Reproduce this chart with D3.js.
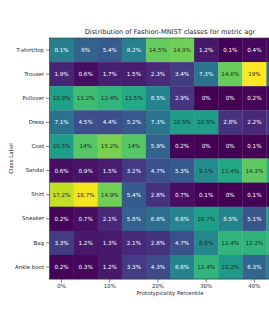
<!DOCTYPE html>
<html>
<head>
<meta charset="utf-8">
<script src="https://cdn.jsdelivr.net/npm/d3@7"></script>
<style>
  body { margin: 0; background: #fff; }
  svg { display: block; font-family: "DejaVu Sans", sans-serif; }
</style>
</head>
<body>
<svg id="chart" width="269" height="314"></svg>
<script>
// Class labels (rows) and percentile bins (columns)
var classes = ["T-shirt/top", "Trouser", "Pullover", "Dress", "Coat",
               "Sandal", "Shirt", "Sneaker", "Bag", "Ankle boot"];
var percentiles = [0, 5, 10, 15, 20, 25, 30, 35, 40, 45];

// Share of each class per bin, in percent (last column is mostly cut off)
var tshirt    = [8.1, 6, 5.4, 8.2, 14.5, 14.9, 1.2, 0.1, 0.4, 0.3];
var trouser   = [1.9, 0.6, 1.7, 1.5, 2.3, 3.4, 7.3, 14.6, 19, 7.5];
var pullover  = [10.9, 13.2, 12.4, 11.5, 8.5, 2.9, 0, 0, 0.2, 0.1];
var dress     = [7.1, 4.5, 4.4, 5.2, 7.3, 10.5, 10.5, 2.8, 2.2, 3];
var coat      = [10.5, 14, 15.2, 14, 5.9, 0.2, 0, 0, 0.1, 0];
var sandal    = [0.6, 0.9, 1.5, 3.2, 4.7, 5.3, 9.1, 11.4, 14.3, 12];
var shirt     = [17.2, 18.7, 14.9, 5.4, 2.8, 0.7, 0.1, 0, 0.1, 0];
var sneaker   = [0.2, 0.7, 2.1, 5.8, 6.8, 8.6, 10.7, 8.5, 5.1, 11];
var bag       = [3.3, 1.2, 1.3, 2.1, 2.8, 4.7, 8.8, 12.4, 12.3, 12.5];
var ankleBoot = [0.2, 0.3, 1.2, 3.3, 4.3, 8.6, 12.4, 10.2, 6.3, 8];

var rows = [tshirt, trouser, pullover, dress, coat, sandal, shirt, sneaker, bag, ankleBoot];

// Flatten into cells
var cells = [];
rows.forEach(function(r, i) {
  r.forEach(function(v, j) {
    cells.push({cls: classes[i], pct: percentiles[j], value: v});
  });
});

// Plot area
var plotLeft = 49.5, plotTop = 38, cell = 24.1;
var plotW = cell * percentiles.length;
var plotH = cell * classes.length;

var svg = d3.select("svg#chart");

var x = d3.scaleBand().domain(percentiles).range([plotLeft, plotLeft + plotW]);
var y = d3.scaleBand().domain(classes).range([plotTop, plotTop + plotH]);
var color = d3.scaleSequential(d3.interpolateViridis).domain([0, 19]);

// dark text on the lighter (greener) cells, white on the dark ones
function textColor(v) {
  return v > 8.7 ? "#262626" : "#ffffff";
}

svg.selectAll("rect.cell")
  .data(cells)
  .enter().append("rect")
  .attr("class", "cell")
  .attr("x", d => x(d.pct))
  .attr("y", d => y(d.cls))
  .attr("width", x.bandwidth() + 0.3)
  .attr("height", y.bandwidth() + 0.3)
  .attr("fill", d => color(d.value));

svg.selectAll("text.annot")
  .data(cells)
  .enter().append("text")
  .attr("class", "annot")
  .attr("x", d => x(d.pct) + x.bandwidth() / 2)
  .attr("y", d => y(d.cls) + y.bandwidth() / 2)
  .attr("text-anchor", "middle")
  .attr("dominant-baseline", "central")
  .attr("font-size", 5.6)
  .attr("fill", d => textColor(d.value))
  .text(d => d3.format("~")(d.value) + "%");

// Frame
svg.append("rect")
  .attr("x", plotLeft)
  .attr("y", plotTop)
  .attr("width", plotW)
  .attr("height", plotH)
  .attr("fill", "none")
  .attr("stroke", "#333")
  .attr("stroke-width", 0.6);

// Axes
var yAxis = svg.append("g")
  .attr("transform", "translate(" + plotLeft + ",0)")
  .call(d3.axisLeft(y).tickSize(3.5).tickPadding(2));

var xAxis = svg.append("g")
  .attr("transform", "translate(0," + (plotTop + plotH) + ")")
  .call(d3.axisBottom(x)
    .tickValues(percentiles.filter(d => d % 10 === 0))
    .tickFormat(d => d + "%")
    .tickSize(3.5).tickPadding(2));

[xAxis, yAxis].forEach(function(g) {
  g.select(".domain").remove();
  g.selectAll(".tick line").attr("stroke", "#333").attr("stroke-width", 0.6);
  g.selectAll(".tick text")
    .attr("font-family", "DejaVu Sans")
    .attr("font-size", 5.4)
    .attr("fill", "#262626");
});

// Title and axis labels
svg.append("text")
  .attr("x", plotLeft + plotW / 2)
  .attr("y", 33.5)
  .attr("text-anchor", "middle")
  .attr("font-size", 6.6)
  .attr("fill", "#262626")
  .text("Distribution of Fashion-MNIST classes for metric agr");

svg.append("text")
  .attr("x", plotLeft + plotW / 2)
  .attr("y", 295)
  .attr("text-anchor", "middle")
  .attr("font-size", 5.4)
  .attr("fill", "#262626")
  .text("Prototypicality Percentile");

svg.append("text")
  .attr("transform", "translate(13," + (plotTop + plotH / 2) + ") rotate(-90)")
  .attr("text-anchor", "middle")
  .attr("font-size", 5.4)
  .attr("fill", "#262626")
  .text("Class Label");
</script>
</body>
</html>
